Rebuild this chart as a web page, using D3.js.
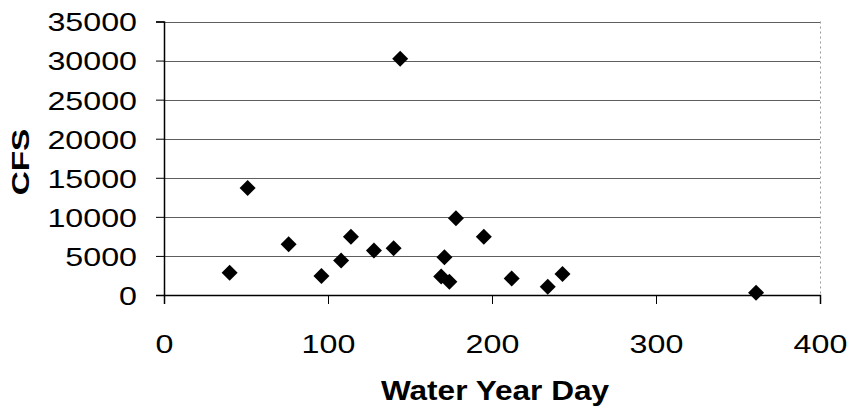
<!DOCTYPE html>
<html>
<head>
<meta charset="utf-8">
<script src="https://cdn.jsdelivr.net/npm/d3@7"></script>
<style>
  html, body { margin: 0; padding: 0; background: #fff; }
  svg { display: block; }
</style>
</head>
<body>
<svg id="chart" width="848" height="418"></svg>
<script>
// Data
const waterYearDay = [40, 51, 76, 96, 108, 114, 128, 140, 144, 171, 169, 174, 178, 195, 212, 234, 243, 361];
const cfs = [2860, 13680, 6500, 2440, 4400, 7470, 5680, 5990, 30220, 4830, 2370, 1700, 9830, 7470, 2120, 1060, 2690, 300];
const xTicks = [0, 100, 200, 300, 400];
const yTicks = [0, 5000, 10000, 15000, 20000, 25000, 30000, 35000];
const xTitle = "Water Year Day";
const yTitle = "CFS";

const svg = d3.select("#chart");
const font = "'Liberation Sans', Arial, Helvetica, sans-serif";
const stretch = 1.24;

const x = d3.scaleLinear().domain([0, 400]).range([164, 820]);
const y = d3.scaleLinear().domain([0, 35000]).range([295, 21.5]);

// Gridlines
svg.append("g").selectAll("line")
  .data(yTicks.filter(d => d > 0))
  .join("line")
  .attr("x1", x(0)).attr("x2", x(400))
  .attr("y1", d => Math.round(y(d)) + 0.5).attr("y2", d => Math.round(y(d)) + 0.5)
  .attr("stroke", "#5e5e5e").attr("stroke-width", 1);

// Right border (dotted)
svg.append("line")
  .attr("x1", x(400) + 0.5).attr("x2", x(400) + 0.5)
  .attr("y1", y(35000)).attr("y2", y(0))
  .attr("stroke", "#9a9a9a").attr("stroke-width", 1)
  .attr("stroke-dasharray", "2,3");

// Y axis
const gy = svg.append("g")
  .attr("transform", `translate(${x(0)},0)`)
  .call(d3.axisLeft(y).tickValues(yTicks).tickSize(8).tickFormat(d3.format("d")));
gy.select(".domain").attr("stroke", "#000").attr("stroke-width", 1.5);
gy.selectAll(".tick line").attr("stroke", "#000");
gy.selectAll(".tick text")
  .attr("x", 0).attr("dy", "0.36em")
  .attr("text-anchor", "end")
  .attr("transform", `translate(-27,0) scale(${stretch},1)`)
  .style("font-family", font).style("font-size", "26px").attr("fill", "#000");

// X axis
const gx = svg.append("g")
  .attr("transform", `translate(0,${y(0)})`)
  .call(d3.axisBottom(x).tickValues(xTicks).tickSize(9).tickFormat(d3.format("d")));
gx.select(".domain").attr("stroke", "#000").attr("stroke-width", 1.5);
gx.selectAll(".tick line").attr("stroke", "#000");
gx.selectAll(".tick text")
  .attr("y", 0).attr("dy", 0)
  .attr("text-anchor", "middle")
  .attr("transform", `translate(0,58) scale(${stretch},1)`)
  .style("font-family", font).style("font-size", "26px").attr("fill", "#000");

// Points (diamonds)
const diamond = d3.symbol().type(d3.symbolSquare).size(128);
svg.append("g").selectAll("path")
  .data(waterYearDay.map((d, i) => [d, cfs[i]]))
  .join("path")
  .attr("d", diamond)
  .attr("transform", d => `translate(${x(d[0])},${y(d[1])}) rotate(45)`)
  .attr("fill", "#000");

// Axis titles
svg.append("text")
  .attr("transform", `translate(${(x(0) + x(400)) / 2 + 3},400) scale(1.17,1)`)
  .attr("text-anchor", "middle")
  .style("font-family", font).style("font-size", "27px").style("font-weight", "bold")
  .text(xTitle);

svg.append("text")
  .attr("transform", `translate(29,162) rotate(-90) scale(1.45,1)`)
  .attr("text-anchor", "middle")
  .style("font-family", font).style("font-size", "23px").style("font-weight", "bold")
  .text(yTitle);
</script>
</body>
</html>
